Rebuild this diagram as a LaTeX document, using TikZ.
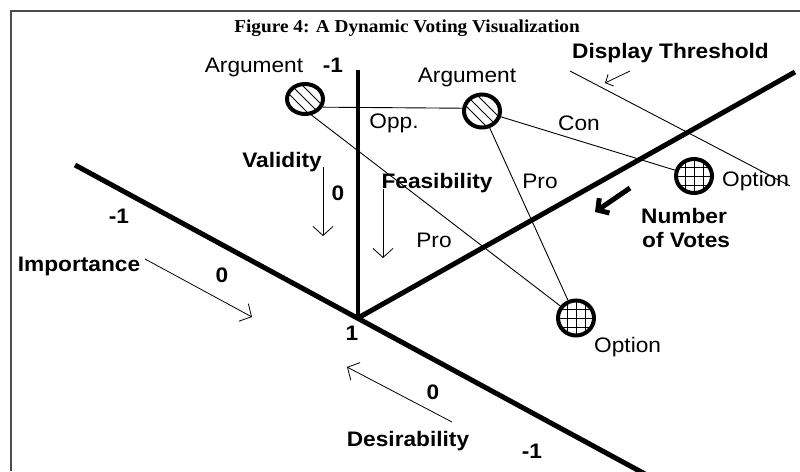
\documentclass[tikz,border=0pt]{standalone}
\usepackage{fontspec}
\setmainfont{Liberation Sans}[FakeStretch=1.08]
\newfontfamily\titlefont{Liberation Serif}[FakeStretch=1.06]
\usetikzlibrary{arrows.meta,shapes.geometric}

\begin{document}
\begin{tikzpicture}[x=1pt,y=-1pt,
            lbl/.style={inner sep=0pt,anchor=base,font=\fontsize{21}{25}\selectfont},
            boldlbl/.style={lbl,font=\fontsize{21}{25}\selectfont\bfseries},
            axisline/.style={line width=5pt},
            conn/.style={line width=0.9pt},
            hint/.style={line width=0.8pt,-{Straight Barb[length=9pt,width=20pt]}},
            argnode/.style={ellipse,draw,line width=4pt,minimum width=36pt,minimum height=33pt,inner sep=0pt,
                path picture={\foreach \s in {-22,-11,0,11,22}
                    \draw[line width=1pt] ([xshift=\s pt]path picture bounding box.center) ++(-25,-25) -- ++(50,50);}},
            optnode/.style={ellipse,draw,line width=4pt,minimum width=36pt,minimum height=34pt,inner sep=0pt,
                path picture={\foreach \s in {-9,0,9} {
                    \draw[line width=1pt] ([xshift=\s pt]path picture bounding box.north) -- ([xshift=\s pt]path picture bounding box.south);
                    \draw[line width=1pt] ([yshift=\s pt]path picture bounding box.west) -- ([yshift=\s pt]path picture bounding box.east);}}}]
            \useasboundingbox (0,0) rectangle (800,471);
            \draw[line width=2pt,black!70] (11,471) -- (11,11) -- (800,11);
            \node[inner sep=0pt,anchor=base,font=\titlefont\fontsize{18.2}{20}\selectfont\bfseries] at (407,32) (title) {Figure 4: A Dynamic Voting Visualization};
            \coordinate (o) at (358,318);
            \coordinate (lt) at (75,165);
            \coordinate (lb) at (645,474);
            \coordinate (vt) at (358,70);
            \coordinate (rt) at (795,72);
            \draw[axisline] (lt) -- (lb);
            \draw[line width=4pt] (vt) -- (o);
            \draw[axisline] (o) -- (rt);
            \coordinate (th1) at (570,71);
            \coordinate (th2) at (790,186);
            \draw[conn] (th1) -- (th2);
            \node[argnode,minimum height=30pt] at (305,99) (arg1) {};
            \node[argnode] at (482,111) (arg2) {};
            \node[optnode] at (694,176) (optR) {};
            \node[optnode,minimum height=35pt] at (576,318) (optB) {};
            \draw[conn] (arg1.-25) -- (arg2.172);
            \draw[conn] (arg2) -- (optR);
            \draw[conn] (arg2) -- (optB);
            \draw[conn] (arg1.-68) -- (optB);
            \node[lbl] at (254,72) (argA) {Argument};
            \node[boldlbl] at (333,72) (topmin) {-1};
            \node[lbl] at (467,82) (argB) {Argument};
            \node[lbl] at (394,128) (opp) {Opp.};
            \node[lbl] at (579,130) (con) {Con};
            \node[lbl] at (540,188) (proR) {Pro};
            \node[lbl] at (434,247) (proL) {Pro};
            \node[lbl,anchor=base west] at (722,186) (optRlbl) {Option};
            \node[lbl,anchor=base west] at (594,352) (optBlbl) {Option};
            \node[boldlbl,anchor=base west] at (572,58) (thr) {Display Threshold};
            \node[boldlbl] at (282,167) (valid) {Validity};
            \node[boldlbl] at (338,200) (validz) {0};
            \node[boldlbl] at (437,188) (feas) {Feasibility};
            \node[boldlbl] at (119,223) (leftmin) {-1};
            \node[boldlbl] at (79,271) (imp) {Importance};
            \node[boldlbl] at (222,282) (impz) {0};
            \node[boldlbl] at (352,340) (orig) {1};
            \node[boldlbl] at (433,399) (desz) {0};
            \node[boldlbl] at (408,446) (des) {Desirability};
            \node[boldlbl] at (532,458) (botmin) {-1};
            \node[boldlbl,anchor=base west] at (641,223) (num) {Number};
            \node[boldlbl,anchor=base west] at (642,247) (votes) {of Votes};
            \coordinate (va1) at (323,167);
            \coordinate (va2) at (323,236);
            \coordinate (fa1) at (383,189);
            \coordinate (fa2) at (383,258);
            \coordinate (ia1) at (145,259);
            \coordinate (ia2) at (252,317);
            \coordinate (da1) at (452,422);
            \coordinate (da2) at (347,367);
            \coordinate (ta1) at (630,71);
            \coordinate (ta2) at (605,83);
            \coordinate (na1) at (630,188);
            \coordinate (na2) at (595,212);
            \draw[hint] (va1) -- (va2);
            \draw[hint] (fa1) -- (fa2);
            \draw[hint] (ia1) -- (ia2);
            \draw[hint] (da1) -- (da2);
            \draw[line width=0.8pt,-{Straight Barb[length=6pt,width=13pt]}] (ta1) -- (ta2);
            \draw[line width=5pt,-{Straight Barb[length=8pt,width=18pt]}] (na1) -- (na2);
        \end{tikzpicture}
\end{document}
